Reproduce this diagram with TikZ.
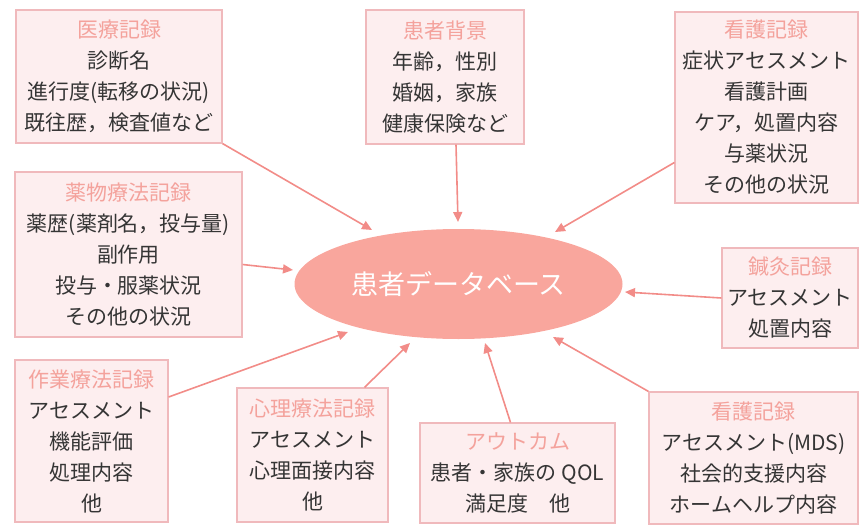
\documentclass[tikz,border=0pt]{standalone}
\usepackage{fontspec}
\setmainfont{Noto Sans CJK JP}
\usetikzlibrary{arrows.meta,shapes.geometric}
\definecolor{boxfill}{HTML}{FDEEEF}
\definecolor{boxline}{HTML}{F0B9BC}
\definecolor{ttlcol}{HTML}{F4A29C}
\definecolor{txt}{HTML}{353535}
\definecolor{ellcol}{HTML}{F9A69D}
\definecolor{arr}{HTML}{F28C88}
\newcommand{\rtitle}[1]{\textcolor{ttlcol}{#1}}
\begin{document}
\begin{tikzpicture}[x=1pt,y=-1pt,
  rec/.style={draw=boxline, line width=1.2pt, fill=boxfill, inner sep=0pt,
    align=center, text=txt, font=\fontsize{21pt}{31pt}\selectfont},
  link/.style={draw=arr, line width=1.6pt, -{Triangle[length=10pt,width=9pt]}}]
\useasboundingbox (0,0) rectangle (860,525);

% central ellipse
\node[ellipse, fill=ellcol, minimum width=328pt, minimum height=110pt, inner sep=0pt,
  text=white, font=\fontsize{27pt}{30pt}\selectfont] (db) at (458.5,284) {患者データベース};

% boxes
\node[rec, minimum width=206pt, minimum height=133pt] (med) at (119,76.5)
  {\rtitle{医療記録}\\診断名\\進行度(転移の状況)\\既往歴，検査値など};
\node[rec, minimum width=158pt, minimum height=134pt] (bg) at (445,77)
  {\rtitle{患者背景}\\年齢，性別\\婚姻，家族\\健康保険など};
\node[rec, minimum width=183pt, minimum height=191pt] (nt) at (766.5,107.5)
  {\rtitle{看護記録}\\症状アセスメント\\看護計画\\ケア，処置内容\\与薬状況\\その他の状況};
\node[rec, minimum width=227pt, minimum height=165pt] (drug) at (128.5,254.5)
  {\rtitle{薬物療法記録}\\薬歴(薬剤名，投与量)\\副作用\\投与・服薬状況\\その他の状況};
\node[rec, minimum width=136pt, minimum height=100pt] (acu) at (790,298)
  {\rtitle{鍼灸記録}\\アセスメント\\処置内容};
\node[rec, minimum width=153pt, minimum height=162pt] (occ) at (91.5,441)
  {\rtitle{作業療法記録}\\アセスメント\\機能評価\\処理内容\\他};
\node[rec, minimum width=151pt, minimum height=134pt] (psy) at (312.5,455)
  {\rtitle{心理療法記録}\\アセスメント\\心理面接内容\\他};
\node[rec, minimum width=195pt, minimum height=100pt] (out) at (517.5,473)
  {\rtitle{アウトカム}\\患者・家族の QOL\\満足度　他};
\node[rec, minimum width=209pt, minimum height=132pt] (nb) at (753.5,458)
  {\rtitle{看護記録}\\アセスメント(MDS)\\社会的支援内容\\ホームヘルプ内容};

% arrow tips near the ellipse
\coordinate (t1) at (372,230);
\coordinate (t2) at (458,222);
\coordinate (t3) at (555,232);
\coordinate (t4) at (293,270);
\coordinate (t5) at (625,292);
\coordinate (t6) at (348,332);
\coordinate (t7) at (410,343);
\coordinate (t8) at (485,343);
\coordinate (t9) at (553,337);

% connectors
\draw[link] (med.south east) -- (t1);
\draw[link] ([xshift=11pt]bg.south) -- (t2);
\draw[link] ([yshift=-55pt]nt.west) -- (t3);
\draw[link] ([yshift=-10pt]drug.east) -- (t4);
\draw[link] (acu.west) -- (t5);
\draw[link] ([yshift=44pt]occ.east) -- (t6);
\draw[link] ([xshift=52pt]psy.north) -- (t7);
\draw[link] ([xshift=-7pt]out.north) -- (t8);
\draw[link] (nb.north west) -- (t9);
\end{tikzpicture}
\end{document}
